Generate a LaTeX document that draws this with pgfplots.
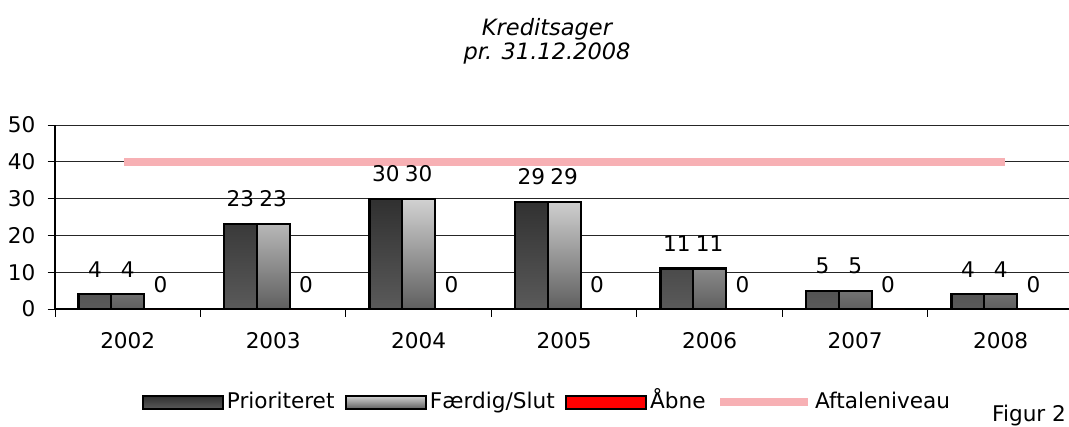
\documentclass[border=0pt]{standalone}
\usepackage{pgfplots}
\pgfplotsset{compat=1.18}
\usepackage{fontspec}
\setmainfont{DejaVu Sans}
\definecolor{darkTop}{RGB}{48,48,48}
\definecolor{darkBot}{RGB}{90,90,90}
\definecolor{lightTop}{RGB}{210,210,210}
\definecolor{lightBot}{RGB}{95,95,95}
\definecolor{aftale}{RGB}{247,176,180}
\pgfplotsset{
  barleg/.style={legend image code/.code={\draw[##1, line width=2pt] (0pt,-6.5pt) rectangle (80pt,6.5pt);}},
  lineleg/.style={legend image code/.code={\draw[##1, line cap=butt] (0pt,0pt) -- (88pt,0pt);}},
}
\begin{document}
\begin{tikzpicture}[font=\fontsize{21.6}{25}\selectfont]
\useasboundingbox (0pt,0pt) rectangle (1069pt,426pt);
\node[anchor=base, font=\fontsize{22.5}{26}\selectfont\itshape] at (547pt,390pt) {Kreditsager};
\node[anchor=base, font=\fontsize{22.5}{26}\selectfont\itshape] at (547pt,366pt) {pr. 31.12.2008};
\node[anchor=base west, inner sep=0pt] at (992pt,5pt) {Figur 2};
\begin{axis}[
  at={(55pt,117pt)}, anchor=south west,
  scale only axis, width=1018.5pt, height=184pt,
  xmin=-0.5, xmax=6.5, ymin=0, ymax=50,
  axis lines=left, axis line style={-, black, line width=1.2pt},
  ytick={0,10,20,30,40,50},
  ymajorgrids, grid style={black!85, line width=1pt},
  xtick={-0.5,0.5,1.5,2.5,3.5,4.5,5.5,6.5},
  x tick label as interval,
  xticklabels={2002,2003,2004,2005,2006,2007,2008},
  tick align=outside, major tick length=7.5pt,
  tick style={black, line width=1pt},
  /pgf/number format/assume math mode=true,
  yticklabel style={inner sep=0pt, xshift=-12pt},
  xticklabel style={inner sep=0pt, yshift=-16pt},
  legend columns=4,
  legend style={at={(0.4836,-0.508)}, anchor=center, draw=none, fill=none,
    inner sep=0pt, nodes={inner xsep=3pt, inner ysep=0pt, anchor=west, text height=16pt, text depth=4pt},
    /tikz/every even column/.append style={column sep=7.5pt}},
]
\addplot[ybar, bar width=32.8pt, bar shift=-32.8pt, draw=black, line width=2.2pt,
  top color=darkTop, bottom color=darkBot,
  nodes near coords, nodes near coords style={inner sep=0pt, yshift=16pt, xshift=-32.8pt, text=black},
  barleg]
  coordinates {(0,4) (1,23) (2,30) (3,29) (4,11) (5,5) (6,4)};
\addlegendentry{Prioriteret}
\addplot[ybar, bar width=32.8pt, bar shift=0pt, draw=black, line width=2.2pt,
  top color=lightTop, bottom color=lightBot,
  nodes near coords, nodes near coords style={inner sep=0pt, yshift=16pt, text=black},
  barleg]
  coordinates {(0,4) (1,23) (2,30) (3,29) (4,11) (5,5) (6,4)};
\addlegendentry{Færdig/Slut}
\addplot[ybar, bar width=32.8pt, bar shift=32.8pt, draw=black, line width=1pt,
  fill=red,
  nodes near coords, nodes near coords style={inner sep=0pt, yshift=16pt, xshift=32.8pt, text=black},
  barleg]
  coordinates {(0,0) (1,0) (2,0) (3,0) (4,0) (5,0) (6,0)};
\addlegendentry{Åbne}
\addplot[sharp plot, no markers, color=aftale, line width=8pt, line cap=rect, lineleg]
  coordinates {(0,40) (1,40) (2,40) (3,40) (4,40) (5,40) (6,40)};
\addlegendentry{Aftaleniveau}
\end{axis}
\end{tikzpicture}
\end{document}
